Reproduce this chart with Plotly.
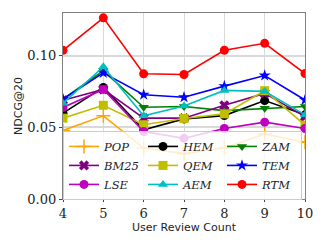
import plotly.graph_objects as go

x_vals = [4, 5, 6, 7, 8, 9, 10]

pop  = [0.0479, 0.0581, 0.0356, 0.0317, 0.0356, 0.0454, 0.0396]
bm25 = [0.0690, 0.0766, 0.0565, 0.0565, 0.0655, 0.0738, 0.0576]
lse  = [0.0640, 0.0766, 0.0472, 0.0424, 0.0493, 0.0537, 0.0493]
hem  = [0.0600, 0.0780, 0.0484, 0.0560, 0.0583, 0.0688, 0.0588]
qem  = [0.0565, 0.0655, 0.0519, 0.0563, 0.0595, 0.0757, 0.0516]
aem  = [0.0670, 0.0924, 0.0581, 0.0650, 0.0759, 0.0752, 0.0588]
zam  = [0.0699, 0.0896, 0.0641, 0.0646, 0.0618, 0.0634, 0.0646]
tem  = [0.0699, 0.0882, 0.0729, 0.0711, 0.0789, 0.0863, 0.0692]
rtm  = [0.1039, 0.1266, 0.0875, 0.0870, 0.1040, 0.1088, 0.0877]

# row-wise order so that legend columns read POP/BM25/LSE, HEM/QEM/AEM, ZAM/TEM/RTM
series = [
    ("POP", pop, "#FFA500", "cross-thin"),
    ("HEM", hem, "#000000", "circle"),
    ("ZAM", zam, "#008000", "triangle-down"),
    ("BM25", bm25, "#800080", "x"),
    ("QEM", qem, "#BFBF00", "square"),
    ("TEM", tem, "#0000FF", "star"),
    ("LSE", lse, "#BF00BF", "circle"),
    ("AEM", aem, "#00BFBF", "triangle-up"),
    ("RTM", rtm, "#FF0000", "circle"),
]

fig = go.Figure()
for name, vals, color, sym in series:
    marker = dict(symbol=sym, size=9, color=color,
                  line=dict(width=1.5 if sym == "cross-thin" else 0, color=color))
    if sym == "cross-thin":
        marker["size"] = 10
    fig.add_trace(go.Scatter(
        x=x_vals, y=vals, mode="lines+markers", name=f"<i>{name}</i>",
        line=dict(color=color, width=1.6), marker=marker,
    ))

fig.update_layout(
    width=325, height=244,
    margin=dict(l=63, r=20, t=13, b=45),
    paper_bgcolor="white", plot_bgcolor="white",
    showlegend=True,
    legend=dict(
        orientation="h", x=0, y=-0.005, xanchor="left", yanchor="bottom",
        bgcolor="rgba(255,255,255,0.8)", bordercolor="#cccccc", borderwidth=1,
        font=dict(family="DejaVu Serif", size=11.5, color="#222"),
        entrywidth=34, entrywidthmode="pixels",
        itemwidth=30, tracegroupgap=0,
    ),
)
fig.update_xaxes(
    range=[4, 10], tickvals=x_vals, ticks="outside", ticklen=2,
    showgrid=True, gridcolor="#d9d9d9", gridwidth=1,
    showline=True, linecolor="#808080", linewidth=1.2, mirror=True,
    tickfont=dict(family="DejaVu Serif", size=13, color="#222"),
    title=dict(text="User Review Count", font=dict(family="DejaVu Sans", size=11, color="#222"), standoff=0),
    zeroline=False, automargin=False,
)
fig.update_yaxes(
    range=[0, 0.13], tickvals=[0.0, 0.05, 0.10], tickformat=".2f", ticks="outside", ticklen=3,
    showgrid=True, gridcolor="#d9d9d9", gridwidth=2,
    showline=True, linecolor="#808080", linewidth=1.2, mirror=True,
    tickfont=dict(family="DejaVu Serif", size=13, color="#222"),
    title=dict(text="NDCG@20", font=dict(family="DejaVu Sans", size=11, color="#222"), standoff=2),
    zeroline=False, automargin=False,
)

fig.write_html("out.html", config={"displayModeBar": False},
               post_script="document.body.style.margin='0';")
